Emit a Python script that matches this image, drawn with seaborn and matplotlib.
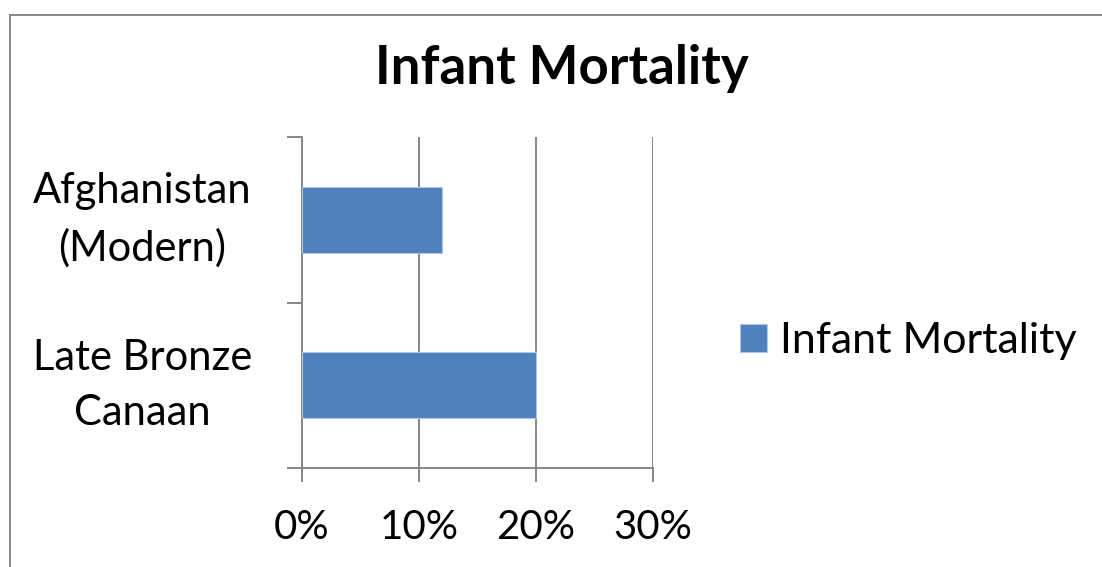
import numpy as np
import pandas as pd
import seaborn as sns
import matplotlib.pyplot as plt
from matplotlib.patches import Rectangle
from matplotlib.ticker import FixedLocator, FuncFormatter

# Data
categories = ["Afghanistan\n(Modern)", "Late Bronze\nCanaan"]
mortality = [12, 20]  # percent
series_name = "Infant Mortality"
x_ticks = [0, 10, 20, 30]

BAR = "#4F81BD"
GRID = "#868686"

sns.set_theme(style="white")
plt.rcParams["font.family"] = ["Lato", "DejaVu Sans"]
plt.rcParams["text.color"] = "black"
plt.rcParams["xtick.labelcolor"] = "black"
plt.rcParams["ytick.labelcolor"] = "black"

df = pd.DataFrame({"place": categories, "value": mortality, "series": series_name})

fig = plt.figure(figsize=(11.02, 5.67), dpi=100)
ax = fig.add_axes([302 / 1102, 1 - 467.7 / 567, 351 / 1102, 330.4 / 567])

sns.barplot(data=df, x="value", y="place", hue="series", orient="h",
            palette=[BAR], saturation=1, width=0.4, dodge=False, ax=ax,
            edgecolor="#B0C6E2", linewidth=0.8, zorder=3)

ax.set_xlim(0, 30)
ax.set_ylim(1.5, -0.5)
ax.xaxis.set_major_locator(FixedLocator(x_ticks))
ax.xaxis.set_major_formatter(FuncFormatter(lambda v, p: f"{v:.0f}%"))
ax.grid(axis="x", color=GRID, linewidth=1.4, zorder=0)
ax.grid(axis="y", visible=False)

# category boundary ticks on the left, labels centred between them
ax.yaxis.set_major_locator(FixedLocator([-0.5, 0.5, 1.5]))
ax.yaxis.set_major_formatter(FuncFormatter(lambda v, p: ""))
ax.set_yticks([0, 1], categories, minor=True)
for lab in ax.get_yticklabels(minor=True):
    lab.set_horizontalalignment("center")
    lab.set_verticalalignment("center")
    lab.set_multialignment("center")
    lab.set_linespacing(1.55)

ax.tick_params(axis="y", which="major", direction="out", length=11, width=1.4,
               color=GRID, left=True)
ax.tick_params(axis="y", which="minor", length=0, pad=115, labelsize=30)
ax.tick_params(axis="x", which="major", direction="out", length=10, width=1.4,
               color=GRID, bottom=True, labelsize=29, pad=20)

for side in ["top", "right"]:
    ax.spines[side].set_visible(False)
for side in ["left", "bottom"]:
    ax.spines[side].set_color(GRID)
    ax.spines[side].set_linewidth(1.4)

ax.set_xlabel("")
ax.set_ylabel("")

ax.legend(loc="center left", bbox_to_anchor=(740 / 1102, 1 - 341 / 567),
          bbox_transform=fig.transFigure, frameon=False, fontsize=31,
          handlelength=0.63, handleheight=0.63, handletextpad=0.3,
          borderpad=0, borderaxespad=0)

fig.text(561.5 / 1102, 1 - 84 / 567, "Infant Mortality", ha="center",
         va="baseline", fontsize=38, fontweight="bold")

# outer chart border (right and bottom fall outside the image)
fig.patches.append(Rectangle((9.5 / 1102, -0.1), 1.2, 1.1 - 14.5 / 567,
                             transform=fig.transFigure, fill=False,
                             edgecolor=GRID, linewidth=1.4))

fig.savefig("out.png", dpi=100)
